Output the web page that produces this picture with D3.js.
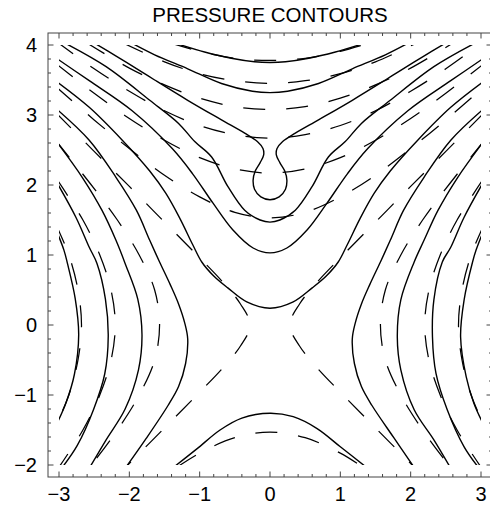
<!DOCTYPE html>
<html><head><meta charset="utf-8">
<script src="https://cdn.jsdelivr.net/npm/d3@7"></script>
<style>body{margin:0;background:#fff}svg{display:block}</style>
</head><body>
<svg id="chart" width="490" height="510"></svg>
<script>
// ---------- data ----------
const title = "PRESSURE CONTOURS";
const xTickValues = [-3, -2, -1, 0, 1, 2, 3];
const yTickValues = [-2, -1, 0, 1, 2, 3, 4];

// solid contours: upper U-shaped family
const solidU1 = [[-1.36,4.03],[-0.93,3.90],[-0.55,3.81],[-0.22,3.76],[0,3.75],[0.22,3.76],[0.55,3.81],[0.93,3.90],[1.36,4.03]];
const solidU2 = [[-1.97,4.03],[-1.64,3.86],[-1.17,3.66],[-0.69,3.45],[-0.25,3.34],[0,3.32],[0.25,3.34],[0.69,3.45],[1.17,3.66],[1.64,3.86],[1.97,4.03]];
const solidU3 = [[-2.50,4.03],[-2.17,3.83],[-1.83,3.62],[-1.64,3.50],[-1.17,3.21],[-0.69,2.93],[-0.36,2.74],[-0.18,2.62],[-0.10,2.52],[-0.09,2.43],[-0.14,2.32],[-0.21,2.20],[-0.24,2.07],[-0.22,1.94],[-0.13,1.83],[0,1.79],[0.13,1.83],[0.22,1.94],[0.24,2.07],[0.21,2.20],[0.14,2.32],[0.09,2.43],[0.10,2.52],[0.18,2.62],[0.36,2.74],[0.69,2.93],[1.17,3.21],[1.64,3.50],[1.83,3.62],[2.17,3.83],[2.50,4.03]];
const solidU4 = [[-2.92,4.03],[-2.33,3.69],[-1.71,3.21],[-1.30,2.88],[-1.07,2.62],[-0.83,2.40],[-0.60,1.98],[-0.36,1.64],[-0.14,1.50],[0,1.47],[0.14,1.50],[0.36,1.64],[0.60,1.98],[0.83,2.40],[1.07,2.62],[1.30,2.88],[1.71,3.21],[2.33,3.69],[2.92,4.03]];
const solidU5 = [[-3.05,3.82],[-2.57,3.49],[-1.96,3.06],[-1.39,2.52],[-1.10,2.16],[-0.81,1.74],[-0.53,1.36],[-0.24,1.10],[0,1.03],[0.24,1.10],[0.53,1.36],[0.81,1.74],[1.10,2.16],[1.39,2.52],[1.96,3.06],[2.57,3.49],[3.05,3.82]];
const solidU6 = [[-3.05,3.49],[-2.57,3.11],[-2.10,2.64],[-1.71,2.20],[-1.48,1.88],[-1.28,1.52],[-1.10,1.15],[-0.97,0.90],[-0.80,0.70],[-0.60,0.53],[-0.33,0.33],[0,0.24],[0.33,0.33],[0.60,0.53],[0.80,0.70],[0.97,0.90],[1.10,1.15],[1.28,1.52],[1.48,1.88],[1.71,2.20],[2.10,2.64],[2.57,3.11],[3.05,3.49]];
// solid contour below the saddle
const solidB1 = [[-1.38,-2.04],[-1.04,-1.77],[-0.71,-1.50],[-0.40,-1.33],[0,-1.26],[0.33,-1.31],[0.67,-1.48],[1.00,-1.74],[1.38,-2.04]];
// solid side branches (left and right)
const solidL1 = [[-3.05,3.10],[-2.57,2.64],[-2.19,2.11],[-1.90,1.64],[-1.71,1.21],[-1.57,0.90],[-1.42,0.58],[-1.30,0.30],[-1.21,0.02],[-1.17,-0.20],[-1.20,-0.55],[-1.30,-0.88],[-1.45,-1.15],[-1.76,-1.62],[-2.04,-2.02]];
const solidL2 = [[-3.05,2.64],[-2.67,2.11],[-2.39,1.64],[-2.19,1.21],[-2.06,0.88],[-1.88,0.37],[-1.82,-0.14],[-1.87,-0.64],[-2.06,-1.20],[-2.33,-1.64],[-2.56,-2.03]];
const solidL3 = [[-3.05,2.07],[-2.76,1.54],[-2.57,1.11],[-2.46,0.88],[-2.34,0.37],[-2.30,-0.16],[-2.35,-0.70],[-2.51,-1.21],[-2.74,-1.72],[-2.95,-2.03]];
const solidL4 = [[-3.05,1.38],[-2.93,1.07],[-2.88,0.88],[-2.77,0.38],[-2.72,-0.14],[-2.78,-0.70],[-2.90,-1.11],[-3.05,-1.45]];
const solidR1 = [[3.05,3.10],[2.57,2.64],[2.19,2.11],[1.90,1.64],[1.71,1.21],[1.57,0.90],[1.42,0.58],[1.30,0.30],[1.21,0.02],[1.17,-0.20],[1.20,-0.55],[1.30,-0.88],[1.45,-1.15],[1.76,-1.61],[2.04,-2.02]];
const solidR2 = [[3.05,2.64],[2.67,2.11],[2.39,1.64],[2.19,1.21],[2.05,0.90],[1.86,0.36],[1.81,-0.17],[1.86,-0.64],[2.05,-1.21],[2.33,-1.64],[2.56,-2.03]];
const solidR3 = [[3.05,2.07],[2.76,1.54],[2.57,1.11],[2.45,0.90],[2.33,0.36],[2.31,-0.17],[2.36,-0.69],[2.52,-1.21],[2.76,-1.74],[2.96,-2.03]];
const solidR4 = [[3.05,1.38],[2.93,1.07],[2.88,0.90],[2.76,0.36],[2.71,-0.17],[2.79,-0.74],[2.90,-1.12],[3.05,-1.45]];

// dashed contours
const dashT6 = [[-1.42,4.03],[-1.0,3.91],[-0.5,3.81],[0,3.78],[0.5,3.81],[1.0,3.91],[1.42,4.03]];
const dashT5 = [[-2.09,4.03],[-1.5,3.76],[-1.0,3.59],[-0.5,3.49],[0,3.45],[0.5,3.49],[1.0,3.59],[1.5,3.76],[2.09,4.03]];
const dashT4 = [[-2.62,4.04],[-2.0,3.67],[-1.5,3.43],[-1.0,3.24],[-0.5,3.12],[0,3.08],[0.5,3.12],[1.0,3.24],[1.5,3.43],[2.0,3.67],[2.62,4.04]];
const dashT3 = [[-3.05,4.06],[-2.5,3.66],[-2.0,3.34],[-1.5,3.06],[-1.0,2.85],[-0.5,2.72],[0,2.67],[0.5,2.72],[1.0,2.85],[1.5,3.06],[2.0,3.34],[2.5,3.66],[3.05,4.06]];
const dashT2 = [[-3.05,3.74],[-2.5,3.31],[-2.0,2.95],[-1.5,2.64],[-1.0,2.39],[-0.5,2.23],[0,2.17],[0.5,2.23],[1.0,2.39],[1.5,2.64],[2.0,2.95],[2.5,3.31],[3.05,3.74]];
const dashT1 = [[-3.05,3.41],[-2.5,2.93],[-2.0,2.52],[-1.5,2.14],[-1.0,1.83],[-0.5,1.61],[0,1.53],[0.5,1.61],[1.0,1.83],[1.5,2.14],[2.0,2.52],[2.5,2.93],[3.05,3.41]];
const dashB1 = [[-1.32,-2.03],[-1.0,-1.83],[-0.5,-1.61],[0,-1.53],[0.5,-1.61],[1.0,-1.83],[1.32,-2.03]];
const dashXL = [[-3.05,3.04],[-2.5,2.48],[-2.0,1.98],[-1.5,1.47],[-1.0,0.96],[-0.66,0.60],[-0.42,0.30],[-0.28,0],[-0.42,-0.30],[-0.66,-0.60],[-1.0,-0.96],[-1.5,-1.47],[-2.05,-2.03]];
const dashXR = [[3.05,3.04],[2.5,2.48],[2.0,1.98],[1.5,1.47],[1.0,0.96],[0.66,0.60],[0.42,0.30],[0.28,0],[0.42,-0.30],[0.66,-0.60],[1.0,-0.96],[1.5,-1.47],[2.05,-2.03]];
const dashL1 = [[-3.05,2.64],[-2.54,2.0],[-2.17,1.5],[-1.86,1.0],[-1.64,0.5],[-1.57,0],[-1.64,-0.5],[-1.86,-1.0],[-2.17,-1.5],[-2.56,-2.03]];
const dashL2 = [[-3.05,2.11],[-2.66,1.5],[-2.42,1.0],[-2.26,0.5],[-2.20,0],[-2.26,-0.5],[-2.42,-1.0],[-2.66,-1.5],[-3.0,-2.03]];
const dashL3 = [[-3.05,1.45],[-2.86,1.0],[-2.73,0.5],[-2.68,0],[-2.73,-0.5],[-2.86,-1.0],[-3.05,-1.45]];
const dashR1 = [[3.05,2.64],[2.54,2.0],[2.17,1.5],[1.86,1.0],[1.64,0.5],[1.57,0],[1.64,-0.5],[1.86,-1.0],[2.17,-1.5],[2.56,-2.03]];
const dashR2 = [[3.05,2.11],[2.66,1.5],[2.42,1.0],[2.26,0.5],[2.20,0],[2.26,-0.5],[2.42,-1.0],[2.66,-1.5],[3.0,-2.03]];
const dashR3 = [[3.05,1.45],[2.86,1.0],[2.73,0.5],[2.68,0],[2.73,-0.5],[2.86,-1.0],[3.05,-1.45]];

const solidLines = [solidU1, solidU2, solidU3, solidU4, solidU5, solidU6, solidB1,
  solidL1, solidL2, solidL3, solidL4, solidR1, solidR2, solidR3, solidR4];
const dashedLines = [dashT6, dashT5, dashT4, dashT3, dashT2, dashT1, dashB1,
  dashXL, dashXR, dashL1, dashL2, dashL3, dashR1, dashR2, dashR3];

// ---------- drawing ----------
const svg = d3.select("#chart");
const x = d3.scaleLinear().domain([-3, 3]).range([59, 481]);
const y = d3.scaleLinear().domain([-2, 4]).range([465, 45]);
const frame = {l: 48, r: 492, t: 33, b: 477};
const font = "'Liberation Sans', Arial, Helvetica, sans-serif";

svg.append("defs").append("clipPath").attr("id", "plotclip")
  .append("rect").attr("x", x(-3)).attr("y", y(4))
  .attr("width", x(3) - x(-3)).attr("height", y(-2) - y(4));

const line = d3.line().x(d => x(d[0])).y(d => y(d[1]))
  .curve(d3.curveCatmullRom.alpha(0.5));

const g = svg.append("g").attr("clip-path", "url(#plotclip)");
g.selectAll("path.dashed").data(dashedLines).join("path")
  .attr("class", "dashed").attr("d", line)
  .attr("fill", "none").attr("stroke", "#000").attr("stroke-width", 1.25)
  .attr("stroke-dasharray", "22,21");
g.selectAll("path.solid").data(solidLines).join("path")
  .attr("class", "solid").attr("d", line)
  .attr("fill", "none").attr("stroke", "#000").attr("stroke-width", 1.4);

// frame
const fc = "#444";
svg.append("rect").attr("x", frame.l).attr("y", frame.t)
  .attr("width", frame.r - frame.l).attr("height", frame.b - frame.t)
  .attr("fill", "none").attr("stroke", fc).attr("stroke-width", 1);

const majLen = 5.5, minLen = 3;
const xMinor = x.ticks(30), yMinor = y.ticks(30);
const tk = svg.append("g").attr("stroke", fc).attr("stroke-width", 1);
xMinor.forEach(v => {
  const L = xTickValues.includes(Math.round(v * 10) / 10) ? majLen : minLen;
  tk.append("line").attr("x1", x(v)).attr("x2", x(v)).attr("y1", frame.b).attr("y2", frame.b - L);
  tk.append("line").attr("x1", x(v)).attr("x2", x(v)).attr("y1", frame.t).attr("y2", frame.t + L);
});
yMinor.forEach(v => {
  const L = yTickValues.includes(Math.round(v * 10) / 10) ? majLen : minLen;
  tk.append("line").attr("y1", y(v)).attr("y2", y(v)).attr("x1", frame.l).attr("x2", frame.l + L);
  tk.append("line").attr("y1", y(v)).attr("y2", y(v)).attr("x1", frame.r).attr("x2", frame.r - L);
});

const fmt = v => (v < 0 ? "\u2212" + Math.abs(v) : String(v));
svg.append("g").selectAll("text").data(xTickValues).join("text")
  .attr("x", d => x(d)).attr("y", 501).attr("text-anchor", "middle")
  .attr("font-family", font).attr("font-size", 20).attr("fill", "#000")
  .text(fmt);
svg.append("g").selectAll("text").data(yTickValues).join("text")
  .attr("x", 37).attr("y", d => y(d) + 7.3).attr("text-anchor", "end")
  .attr("font-family", font).attr("font-size", 20).attr("fill", "#000")
  .text(fmt);

svg.append("text").attr("x", 270).attr("y", 22).attr("text-anchor", "middle")
  .attr("font-family", font).attr("font-size", 20.5).attr("fill", "#000")
  .text(title);
</script>
</body></html>
